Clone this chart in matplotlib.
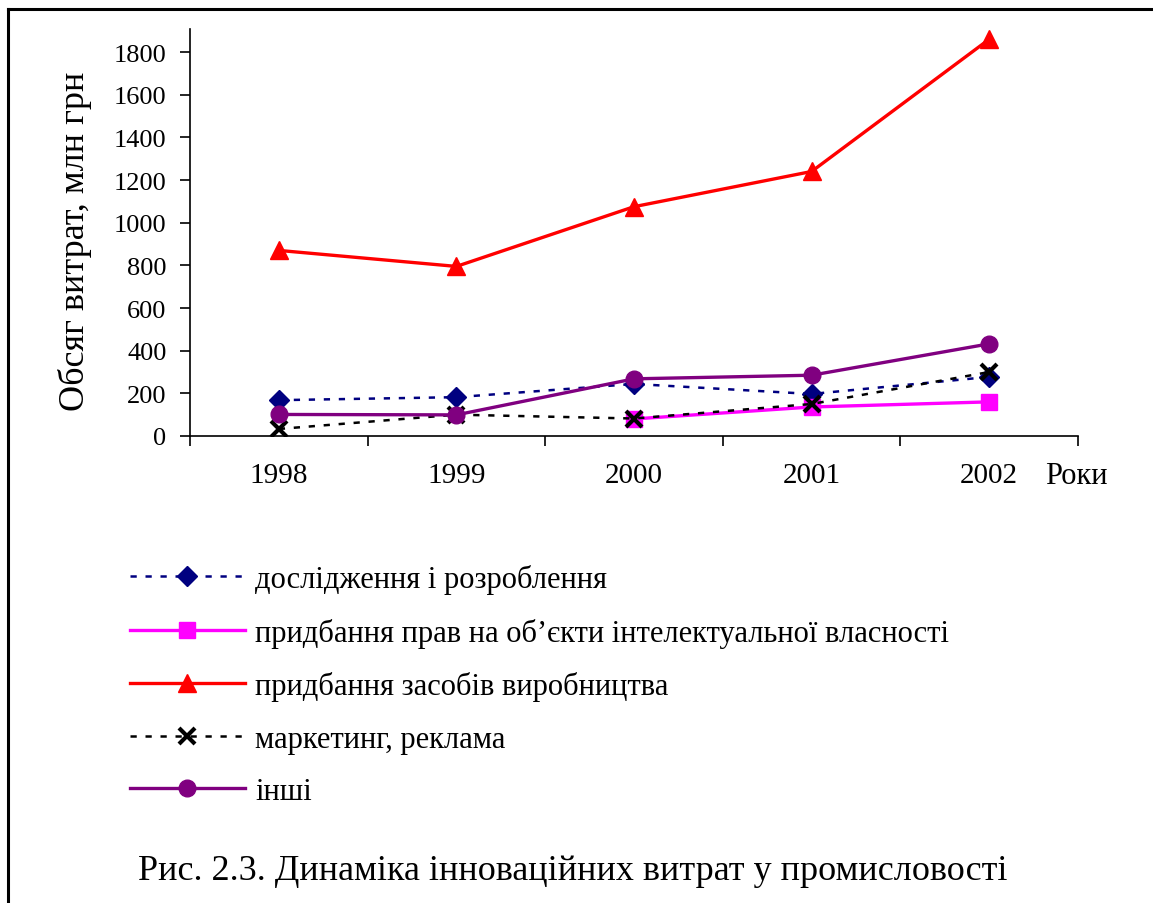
import matplotlib
matplotlib.use("Agg")
import matplotlib.pyplot as plt
import numpy as np
from matplotlib.lines import Line2D

plt.rcParams['font.family'] = ['Liberation Serif', 'DejaVu Serif']

years = ['1998', '1999', '2000', '2001', '2002']
rd = [168, 182, 244, 197, 277]                        # дослідження і розроблення
ip_rights = [np.nan, np.nan, 80, 136, 160]            # придбання прав на об'єкти ІВ
equipment = [870, 795, 1075, 1240, 1860]              # придбання засобів виробництва
marketing = [33, 100, 82, 150, 300]                   # маркетинг, реклама
other = [101, 99, 268, 285, 432]                      # інші

labels = ['дослідження і розроблення',
          'придбання прав на об\u02bcєкти інтелектуальної власності',
          'придбання засобів виробництва',
          'маркетинг, реклама',
          'інші']

W, H = 1153, 904
fig = plt.figure(figsize=(W / 100, H / 100), dpi=100)
ax = fig.add_axes([190 / W, 1 - 437 / H, 888 / W, 407 / H])

x = np.arange(len(years))
ax.plot(x, rd, color='#000080', ls=(0, (2.5, 3.5)), lw=1.8, marker='D', ms=10, label=labels[0])
ax.plot(x, ip_rights, color='#FF00FF', lw=2.4, marker='s', ms=12, label=labels[1])
ax.plot(x, equipment, color='#FF0000', lw=2.4, marker='^', ms=13, label=labels[2])
ax.plot(x, marketing, color='black', ls=(0, (2.5, 3.5)), lw=1.8, marker='x', ms=11, mew=3, label=labels[3])
ax.plot(x, other, color='#800080', lw=2.4, marker='o', ms=12, label=labels[4])

ax.set_xlim(-0.5, 4.5)
ax.set_ylim(0, 1908)
ax.set_yticks(range(0, 1801, 200))
ax.tick_params(axis='y', direction='out', length=7, width=1.2, labelsize=19, pad=10)
ax.set_xticks(x)
ax.set_xticklabels(years)
ax.tick_params(axis='x', which='major', length=0, labelsize=21, pad=19)
ax.set_xticks(np.arange(-0.5, 5, 1), minor=True)
ax.tick_params(axis='x', which='minor', direction='out', length=7, width=1.2)
for s in ['top', 'right']:
    ax.spines[s].set_visible(False)
for s in ['left', 'bottom']:
    ax.spines[s].set_linewidth(1.2)

ax.set_ylabel('Обсяг витрат, млн грн', fontsize=26, va='center')
ax.yaxis.set_label_coords(-0.1295, 0.48)

fig.text(1045 / W, 1 - 476 / H, 'Роки', fontsize=22, va='center', ha='left')

fig.legend(loc='upper left', bbox_to_anchor=(130 / W, 1 - 565 / H), frameon=False,
           fontsize=22, handlelength=3.76, handletextpad=0.33, labelspacing=0.77,
           borderpad=0, borderaxespad=0)

fig.text(0.497, 1 - 872 / H, 'Рис. 2.3. Динаміка інноваційних витрат у промисловості',
         fontsize=26, ha='center', va='center')

# рамка
fig.add_artist(Line2D([8 / W, 8 / W], [0, 1 - 10 / H], color='black', lw=2.2))
fig.add_artist(Line2D([8 / W, 1], [1 - 10 / H, 1 - 10 / H], color='black', lw=2.2))

fig.savefig('out.png', dpi=100)
